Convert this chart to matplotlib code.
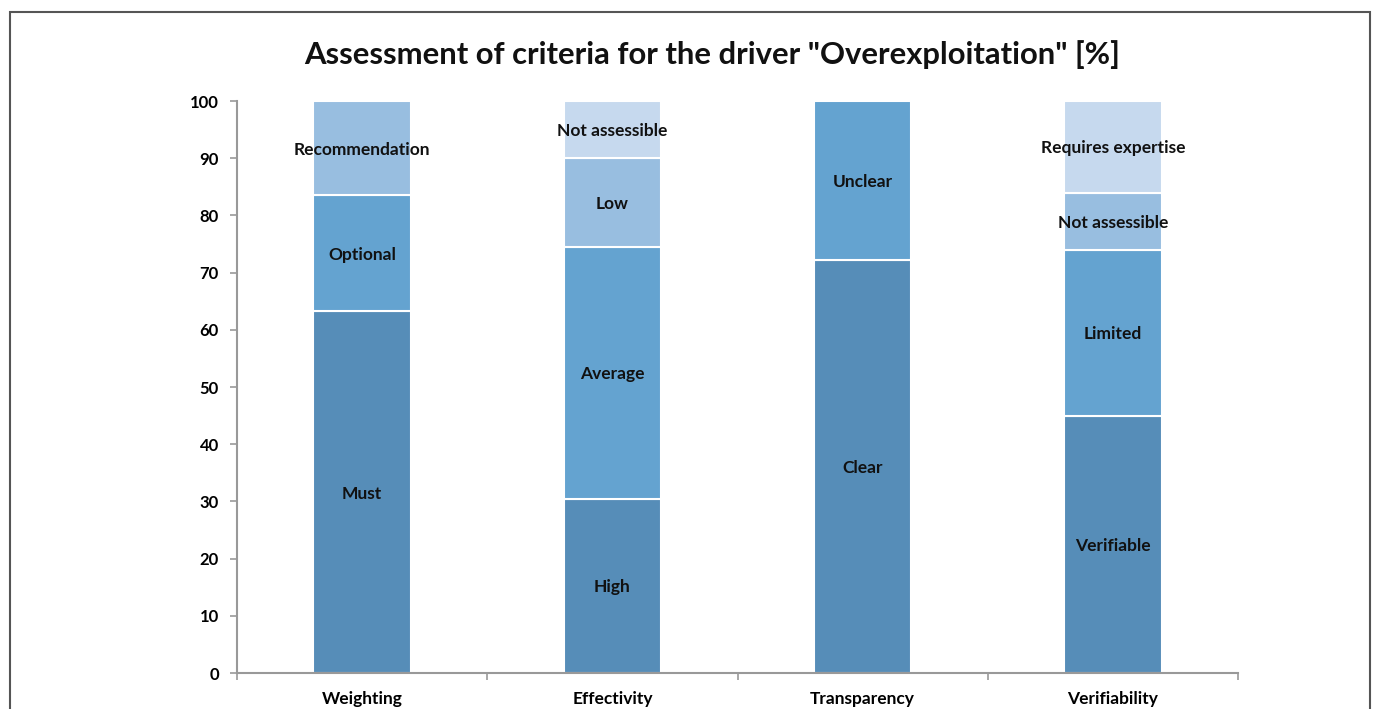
import matplotlib
matplotlib.use("Agg")
import matplotlib.pyplot as plt
from matplotlib.patches import Rectangle

categories = ["Weighting", "Effectivity", "Transparency", "Verifiability"]
# segments per category, bottom to top
seg_labels = [
    ["Must", "Optional", "Recommendation"],
    ["High", "Average", "Low", "Not assessible"],
    ["Clear", "Unclear"],
    ["Verifiable", "Limited", "Not assessible", "Requires expertise"],
]
seg_values = [
    [63.2, 20.3, 16.5],
    [30.5, 44.0, 15.5, 10.0],
    [72.2, 27.8],
    [45.0, 29.0, 10.0, 16.0],
]
yticks = [0, 10, 20, 30, 40, 50, 60, 70, 80, 90, 100]
title = 'Assessment of criteria for the driver "Overexploitation" [%]'

colors = ["#568DB8", "#64A3D0", "#98BEE0", "#C6D9EE"]

plt.rcParams['font.family'] = ['Lato', 'DejaVu Sans']

fig = plt.figure(figsize=(13.76, 7.09), dpi=100)
ax = fig.add_axes([237/1376, 1-673/709, (1238-237)/1376, (673-101)/709])

for i, (labs, vals) in enumerate(zip(seg_labels, seg_values)):
    bottom = 0
    for j, (lab, v) in enumerate(zip(labs, vals)):
        ax.bar(i, v, bottom=bottom, width=0.39, color=colors[j],
               edgecolor="white", linewidth=1.5, zorder=2)
        ax.text(i, bottom + v / 2, lab, ha="center", va="center_baseline",
                fontsize=12.5, fontweight="bold", color="#111111", zorder=3)
        bottom += v

ax.set_xlim(-0.5, len(categories) - 0.5)
ax.set_ylim(0, 100)
ax.set_yticks(yticks)
ax.set_yticklabels([str(t) for t in yticks], fontsize=12, fontweight="bold")
ax.set_xticks(range(len(categories)))
ax.set_xticklabels(categories, fontsize=12.5, fontweight="bold")
ax.tick_params(axis="x", length=0, pad=13)
ax.set_xticks([k + 0.5 for k in range(-1, len(categories))], minor=True)
ax.tick_params(axis="x", which="minor", length=5, color="#999999", width=1.2)
ax.tick_params(axis="y", length=5, color="#999999", width=1.2, pad=8)

for s in ["top", "right"]:
    ax.spines[s].set_visible(False)
for s in ["left", "bottom"]:
    ax.spines[s].set_color("#999999")
    ax.spines[s].set_linewidth(1.5)

fig.text(712/1376, 1-55/709, title, ha="center", va="center",
         fontsize=22.3, fontweight="bold", color="#111111")

border = Rectangle((10/1376, -0.05), (1370-10)/1376, 1.05 - 12/709,
                   transform=fig.transFigure, fill=False,
                   edgecolor="#555555", linewidth=1.5)
fig.patches.append(border)

fig.savefig("out.png", dpi=100)
